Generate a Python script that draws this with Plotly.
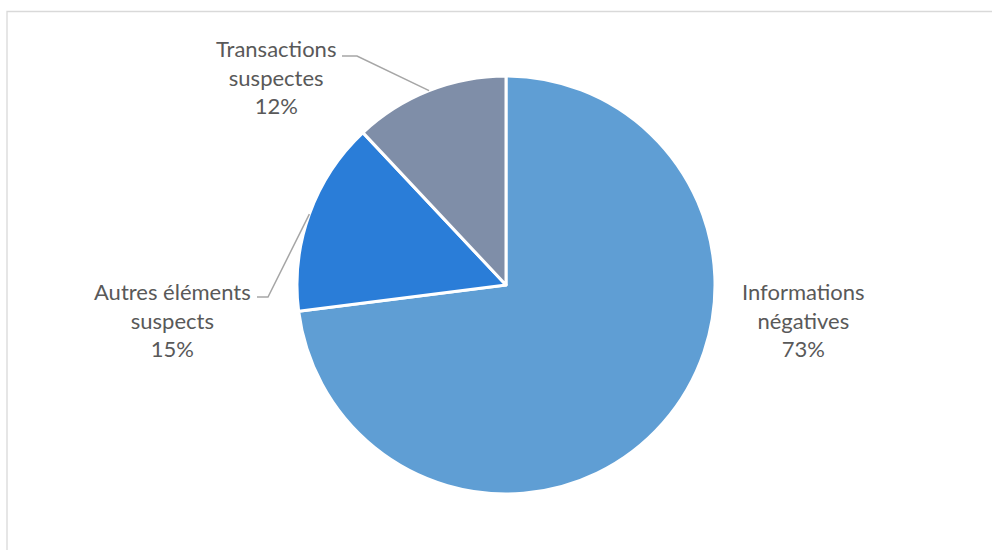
import math
import plotly.graph_objects as go

# Répartition des signalements par catégorie
categories = ["Informations négatives", "Autres éléments suspects", "Transactions suspectes"]
label_lines = ["Informations<br>négatives", "Autres éléments<br>suspects", "Transactions<br>suspectes"]
values = [73, 15, 12]
colors = ["#5F9ED4", "#2A7DD8", "#7F8EA8"]

W, H = 992, 550
CX, CY, R = 506, 285, 209  # pie centre and radius in pixels


def px(x):
    return x / W


def py(y):
    return 1 - y / H


fig = go.Figure(
    go.Pie(
        labels=categories,
        values=values,
        sort=False,
        direction="clockwise",
        rotation=0,
        textinfo="none",
        hoverinfo="label+percent",
        marker=dict(colors=colors, line=dict(color="white", width=3)),
        domain=dict(x=[px(CX - R), px(CX + R)], y=[py(CY + R), py(CY - R)]),
        showlegend=False,
    )
)

total = sum(values)
cum = 0
mid_points = []
for v in values:
    frac_mid = (cum + v / 2) / total
    ang = 2 * math.pi * frac_mid  # clockwise from 12 o'clock
    mid_points.append((CX + R * math.sin(ang), CY - R * math.cos(ang)))
    cum += v

pct = [round(100 * v / total) for v in values]

# label block centres (pixels) and leader-line elbow points
label_pos = [(803, 320), (172, 320), (276, 77)]
elbows = [None, ((257, 297), (268, 297)), ((342, 56), (357, 56))]

annotations = []
shapes = []
for i in range(len(values)):
    lx, ly = label_pos[i]
    annotations.append(
        dict(
            x=px(lx), y=py(ly), xref="paper", yref="paper",
            text=f"{label_lines[i]}<br>{pct[i]}%",
            showarrow=False, xanchor="center", yanchor="middle", align="center",
            font=dict(family="Lato, 'Open Sans', sans-serif", size=22, color="#595959"),
        )
    )
    if elbows[i] is not None:
        (x0, y0), (x1, y1) = elbows[i]
        ex, ey = mid_points[i]
        path = f"M {px(x0)} {py(y0)} L {px(x1)} {py(y1)} L {px(ex)} {py(ey)}"
        shapes.append(
            dict(type="path", path=path, xref="paper", yref="paper",
                 line=dict(color="#A6A6A6", width=1.5))
        )

# chart-area frame
shapes.append(
    dict(type="rect", xref="paper", yref="paper",
         x0=px(7), x1=1.02, y0=-0.02, y1=py(11.5),
         line=dict(color="#D9D9D9", width=1.3), fillcolor="rgba(0,0,0,0)")
)

fig.update_layout(
    width=W, height=H,
    margin=dict(l=0, r=0, t=0, b=0),
    paper_bgcolor="white", plot_bgcolor="white",
    annotations=annotations,
    shapes=shapes,
)

fig.write_html("out.html")
